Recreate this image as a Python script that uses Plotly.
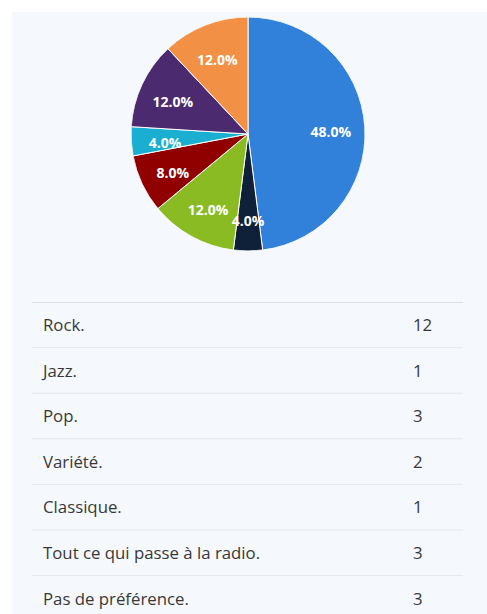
import plotly.graph_objects as go

# survey answers and counts
labels = ["Rock.", "Jazz.", "Pop.", "Variété.", "Classique.",
          "Tout ce qui passe à la radio.", "Pas de préférence."]
counts = [12, 1, 3, 2, 1, 3, 3]
colors = ["#3180d9", "#0e2138", "#8bbb22", "#900000", "#1aafd0", "#4b2a6f", "#f29046"]

W, H = 487, 614
panel_bg = "#f5f8fc"
text_color = "#383838"
pie_domain = dict(x=[131 / W, 365 / W], y=[1 - 251 / H, 1 - 17 / H])
# labels sit a few pixels lower than the slice middles
label_domain = dict(x=pie_domain["x"], y=[1 - 256 / H, 1 - 22 / H])

total = sum(counts)
mid_theta, widths, pct_text, acc = [], [], [], 0
for c in counts:
    mid_theta.append((acc + c / 2) / total * 360)
    widths.append(c / total * 360)
    pct_text.append(f"{c / total * 100:.1f}%")
    acc += c

fig = go.Figure()

# pie slices as full-radius polar bars, clockwise from 12 o'clock
fig.add_trace(go.Barpolar(
    r=[1] * len(counts), theta=mid_theta, width=widths,
    marker=dict(color=colors, line=dict(color="white", width=1)),
    showlegend=False, hoverinfo="skip",
))

# percentage labels at the middle angle of each slice
fig.add_trace(go.Scatterpolar(
    r=[0.71] * len(counts), theta=mid_theta, mode="text", text=pct_text,
    textfont=dict(family="Open Sans", size=14, color="white", weight="bold"),
    subplot="polar2", showlegend=False, hoverinfo="skip",
))

# table rows: labels and counts as text on a hidden category axis
fig.add_trace(go.Scatter(
    x=[43] * len(labels), y=labels, mode="text", text=labels,
    textposition="middle right", yaxis="y2",
    textfont=dict(family="Open Sans", size=16.8, color=text_color),
    showlegend=False, hoverinfo="skip",
))
fig.add_trace(go.Scatter(
    x=[413] * len(labels), y=labels, mode="text", text=[str(c) for c in counts],
    textposition="middle right", yaxis="y2",
    textfont=dict(family="Open Sans", size=16.8, color=text_color),
    showlegend=False, hoverinfo="skip",
))

row_h = 45.6
table_top = 302
rows_visible = (H - table_top) / row_h
text_drop = 2 / row_h  # text baseline a touch lower than row middle
fig.update_xaxes(range=[0, W], domain=[0, 1], visible=False, fixedrange=True)
fig.update_layout(
    yaxis=dict(type="category", categoryarray=labels, domain=[0, 1 - table_top / H],
               range=[rows_visible - 0.5, -0.5], visible=False, fixedrange=True),
    yaxis2=dict(type="category", categoryarray=labels, domain=[0, 1 - table_top / H],
                range=[rows_visible - 0.5 - text_drop, -0.5 - text_drop],
                overlaying="y", visible=False, fixedrange=True),
)

shapes = [dict(type="rect", xref="paper", yref="paper", x0=12 / W, x1=1, y0=0, y1=1 - 12 / H,
               fillcolor=panel_bg, line_width=0, layer="below")]
for i in range(len(labels) + 1):
    shapes.append(dict(type="line", xref="paper", yref="y", x0=32 / W, x1=463 / W,
                       y0=i - 0.5, y1=i - 0.5,
                       line=dict(color="#dcdfe3" if i == 0 else "#e4e8ec", width=2 if i == 0 else 1)))

polar_common = dict(bgcolor="rgba(0,0,0,0)", bargap=0,
                    radialaxis=dict(range=[0, 1], visible=False),
                    angularaxis=dict(rotation=90, direction="clockwise", visible=False))

fig.update_layout(
    width=W, height=H, margin=dict(l=0, r=0, t=0, b=0),
    paper_bgcolor="white", plot_bgcolor="rgba(0,0,0,0)",
    shapes=shapes,
    polar=dict(domain=pie_domain, **polar_common),
    polar2=dict(domain=label_domain, **polar_common),
    font=dict(family="Open Sans", color=text_color),
)

fig.write_html("out.html", config={"displayModeBar": False},
               post_script="document.body.style.margin='0px';")
